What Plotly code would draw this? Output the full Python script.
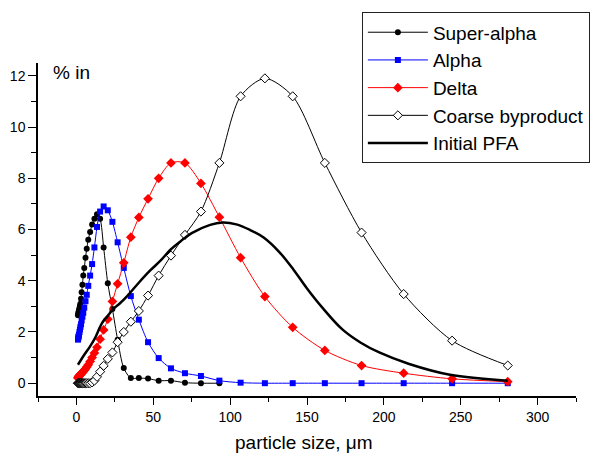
import plotly.graph_objects as go

# particle size grid (um)
size_um = [1.0, 1.15, 1.3, 1.5, 1.7, 2.0, 2.3, 2.6, 3.0, 3.4, 3.9, 4.45, 5.1, 5.9, 6.7, 7.7,
           8.9, 10.2, 11.7, 13.4, 15.4, 17.7, 20.4, 23.4, 26.8, 30.8, 35.4, 40.6, 46.6, 53.5,
           61.5, 70.6, 81.0, 93.0, 106.8, 122.6, 140.7, 161.6, 185.5, 212.9, 244.4, 280.6]

super_alpha_x = size_um[:34]
super_alpha = [2.65, 2.7, 2.75, 2.8, 2.86, 2.94, 3.02, 3.1, 3.3, 3.55, 3.84, 4.2, 4.5, 4.9, 5.25, 5.6,
               5.9, 6.2, 6.42, 6.6, 6.42, 5.3, 3.9, 2.9, 1.7, 0.59, 0.2, 0.2, 0.18, 0.1,
               0.1, 0.02, 0.0, 0.0]

alpha = [1.7, 1.75, 1.8, 1.85, 1.9, 2.0, 2.1, 2.2, 2.3, 2.45, 2.6, 2.75, 2.95, 3.2, 3.45, 3.8,
         4.2, 4.65, 5.3, 6.1, 6.7, 6.9, 6.75, 6.3, 5.5, 4.5, 3.4, 2.48, 1.6, 0.98,
         0.58, 0.39, 0.28, 0.1, 0.02, 0.0, 0.0, 0.0, 0.0, 0.0, 0.0, 0.0]

delta = [0.2, 0.22, 0.24, 0.26, 0.28, 0.3, 0.32, 0.34, 0.36, 0.39, 0.42, 0.46, 0.5, 0.56, 0.63, 0.72,
         0.85, 1.0, 1.18, 1.4, 1.72, 2.08, 2.5, 3.19, 3.88, 4.7, 5.7, 6.47, 7.2, 8.0,
         8.6, 8.6, 7.8, 6.48, 4.9, 3.38, 2.18, 1.28, 0.69, 0.39, 0.17, 0.06]

coarse = [0.0, 0.0, 0.0, 0.0, 0.0, 0.0, 0.0, 0.0, 0.0, 0.0, 0.0, 0.0, 0.0, 0.0, 0.0, 0.0,
          0.0, 0.03, 0.1, 0.25, 0.45, 0.68, 0.95, 1.2, 1.6, 2.0, 2.4, 2.82, 3.42, 4.2,
          4.98, 5.79, 6.7, 8.6, 11.2, 11.9, 11.2, 8.6, 5.88, 3.48, 1.66, 0.69]

pfa_x = [1, 5, 9, 12, 15, 17, 20, 24, 28, 33, 41, 48, 55, 61, 68, 75, 87, 95, 104, 113,
         122, 132, 141, 150, 160, 173, 185, 197, 216, 243, 280.6]
pfa = [0.72, 1.1, 1.45, 1.75, 2.15, 2.38, 2.6, 2.9, 3.1, 3.4, 3.95, 4.4, 4.8, 5.2, 5.55, 5.86,
       6.18, 6.27, 6.2, 5.98, 5.68, 5.12, 4.45, 3.7, 2.95, 2.1, 1.58, 1.2, 0.76, 0.33, 0.1]

x_ticks = [0, 50, 100, 150, 200, 250, 300]
y_ticks = [0, 2, 4, 6, 8, 10, 12]

FONT = "Liberation Sans, Arial, sans-serif"

fig = go.Figure()
fig.add_trace(go.Scatter(x=super_alpha_x, y=super_alpha, name="Super-alpha", mode="lines+markers",
                         line=dict(color="black", width=1, shape="spline", smoothing=0.8),
                         marker=dict(symbol="circle", size=6, color="black")))
fig.add_trace(go.Scatter(x=size_um, y=alpha, name="Alpha", mode="lines+markers",
                         line=dict(color="#0000FF", width=1, shape="spline", smoothing=0.8),
                         marker=dict(symbol="square", size=6, color="#0000FF")))
fig.add_trace(go.Scatter(x=size_um, y=delta, name="Delta", mode="lines+markers",
                         line=dict(color="#FF0000", width=1, shape="spline", smoothing=0.8),
                         marker=dict(symbol="diamond", size=7.5, color="#FF0000")))
fig.add_trace(go.Scatter(x=size_um, y=coarse, name="Coarse byproduct", mode="lines+markers",
                         line=dict(color="black", width=1, shape="spline", smoothing=0.8),
                         marker=dict(symbol="diamond", size=7, color="white",
                                     line=dict(color="black", width=1))))
fig.add_trace(go.Scatter(x=pfa_x, y=pfa, name="Initial PFA", mode="lines",
                         line=dict(color="black", width=2.5, shape="spline", smoothing=1.0)))

fig.update_layout(
    width=595, height=453,
    margin=dict(l=38, r=19, t=63, b=57, autoexpand=False),
    paper_bgcolor="white", plot_bgcolor="white",
    font=dict(family=FONT, color="black", size=14),
    showlegend=True,
    legend=dict(x=0.602, y=1.152, xanchor="left", yanchor="top",
                bgcolor="white", bordercolor="#222222", borderwidth=1,
                font=dict(family=FONT, size=19, color="black"),
                itemwidth=60, tracegroupgap=0),
    xaxis=dict(range=[-25, 325], tickvals=x_ticks, ticks="outside", ticklen=7, tickwidth=1.2,
               tickcolor="black", showline=True, linecolor="black", linewidth=1.5,
               showgrid=False, zeroline=False, tickfont=dict(size=14),
               minor=dict(dtick=25, tick0=0, ticks="outside", ticklen=4, tickcolor="black",
                          tickwidth=1.2, showgrid=False)),
    yaxis=dict(range=[-0.5, 12.5], tickvals=y_ticks, ticks="outside", ticklen=8, tickwidth=1.2,
               tickcolor="black", showline=True, linecolor="black", linewidth=1.5,
               showgrid=False, zeroline=False, tickfont=dict(size=14),
               minor=dict(dtick=1, tick0=0, ticks="outside", ticklen=5, tickcolor="black",
                          tickwidth=1.2, showgrid=False)),
    annotations=[
        dict(text="% in", xref="paper", yref="paper", x=0.063, y=0.97, xanchor="center",
             yanchor="middle", showarrow=False, font=dict(family=FONT, size=19)),
        dict(text="particle size, μm", xref="paper", yref="paper", x=0.495, y=-0.141,
             xanchor="center", yanchor="middle", showarrow=False, font=dict(family=FONT, size=19)),
    ],
)

fig.write_html("out.html", config={"displayModeBar": False},
               post_script="document.body.style.margin='0px';document.body.style.padding='0px';")
